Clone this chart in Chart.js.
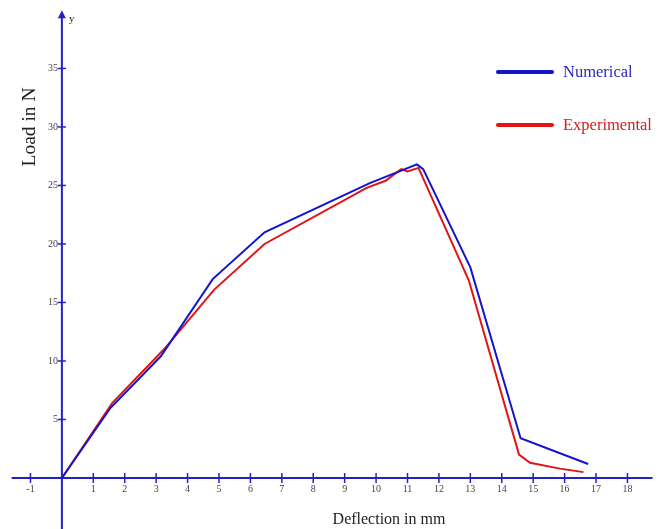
<!DOCTYPE html>
<html>
<head>
<meta charset="utf-8">
<script src="https://cdn.jsdelivr.net/npm/chart.js@4/dist/chart.umd.min.js"></script>
<style>
  body { margin: 0; background: #fff; }
  #wrap { width: 662px; height: 529px; position: relative; }
</style>
</head>
<body>
<div id="wrap"><canvas id="loadChart"></canvas></div>
<script>
// Data
const numX = [0, 1.55, 3.15, 4.8, 6.45, 9.8, 11.3, 11.5, 13.0, 14.6, 16.75];
const numY = [0, 6.0, 10.4, 17.0, 21.0, 25.2, 26.8, 26.4, 18.0, 3.4, 1.2];
const expX = [0, 1.6, 3.25, 4.85, 6.45, 9.7, 10.3, 10.8, 11.0, 11.35, 12.95, 14.55, 14.9, 15.85, 16.6];
const expY = [0, 6.4, 11.0, 16.1, 20.0, 24.8, 25.4, 26.4, 26.2, 26.5, 16.9, 2.0, 1.3, 0.8, 0.5];
const xTicks = [-1, 1, 2, 3, 4, 5, 6, 7, 8, 9, 10, 11, 12, 13, 14, 15, 16, 17, 18];
const yTicks = [5, 10, 15, 20, 25, 30, 35];

const AXIS = '#2222c8';
const BLUE = '#1414cc';
const RED = '#e01414';
const SERIF = '"Liberation Serif", "DejaVu Serif", serif';

const toPoints = (xs, ys) => xs.map((x, i) => ({ x: x, y: ys[i] }));

const decor = {
    id: 'decor',
    beforeDatasetsDraw(chart) {
        const { ctx, scales: { x, y } } = chart;
        const x0 = x.getPixelForValue(0);
        const y0 = y.getPixelForValue(0);
        ctx.save();
        ctx.strokeStyle = AXIS;
        ctx.fillStyle = AXIS;
        ctx.lineWidth = 2;
        // x axis
        ctx.beginPath();
        ctx.moveTo(x.getPixelForValue(-1.6), y0);
        ctx.lineTo(x.getPixelForValue(18.8), y0);
        ctx.stroke();
        // y axis with arrow
        const yTop = y.getPixelForValue(39.8);
        ctx.beginPath();
        ctx.moveTo(x0, 529);
        ctx.lineTo(x0, yTop + 4);
        ctx.stroke();
        ctx.beginPath();
        ctx.moveTo(x0, yTop - 2);
        ctx.lineTo(x0 - 4, yTop + 6);
        ctx.lineTo(x0 + 4, yTop + 6);
        ctx.closePath();
        ctx.fill();
        // tick marks crossing the axes
        ctx.lineWidth = 1.5;
        xTicks.forEach(v => {
            const px = x.getPixelForValue(v);
            ctx.beginPath();
            ctx.moveTo(px, y0 - 5);
            ctx.lineTo(px, y0 + 5);
            ctx.stroke();
        });
        yTicks.forEach(v => {
            const py = y.getPixelForValue(v);
            ctx.beginPath();
            ctx.moveTo(x0 - 4, py);
            ctx.lineTo(x0 + 4, py);
            ctx.stroke();
        });
        // y tick labels, left of the axis
        ctx.fillStyle = '#444';
        ctx.font = '10px ' + SERIF;
        ctx.textAlign = 'right';
        ctx.textBaseline = 'middle';
        yTicks.forEach(v => {
            ctx.fillText(String(v), x0 - 4, y.getPixelForValue(v));
        });
        ctx.restore();
    },
    afterDraw(chart) {
        const { ctx, scales: { x } } = chart;
        ctx.save();
        // axis titles
        ctx.fillStyle = '#222';
        ctx.font = '16px ' + SERIF;
        ctx.textAlign = 'center';
        ctx.textBaseline = 'alphabetic';
        ctx.fillText('Deflection in mm', 389, 524);
        ctx.font = '19.5px ' + SERIF;
        ctx.textBaseline = 'middle';
        ctx.translate(30, 127);
        ctx.rotate(-Math.PI / 2);
        ctx.fillText('Load in N', 0, 0);
        ctx.restore();
        ctx.save();
        ctx.fillStyle = '#222';
        ctx.font = '11px ' + SERIF;
        ctx.textBaseline = 'middle';
        ctx.fillText('y', x.getPixelForValue(0) + 7, 19);
        // legend
        chart.data.datasets.forEach((ds, i) => {
            const ly = 72 + i * 53;
            ctx.strokeStyle = ds.borderColor;
            ctx.lineWidth = 4;
            ctx.lineCap = 'round';
            ctx.beginPath();
            ctx.moveTo(498, ly);
            ctx.lineTo(552, ly);
            ctx.stroke();
            ctx.fillStyle = ds.borderColor === BLUE ? '#2a2ac0' : '#d42020';
            ctx.font = '16.5px ' + SERIF;
            ctx.textAlign = 'left';
            ctx.fillText(ds.label, 563, ly + 1);
        });
        ctx.restore();
    }
};

new Chart(document.getElementById('loadChart').getContext('2d'), {
    type: 'line',
    data: {
        datasets: [
            {
                label: 'Numerical',
                data: toPoints(numX, numY),
                borderColor: BLUE,
                borderWidth: 2,
                pointRadius: 0,
                tension: 0,
                fill: false
            },
            {
                label: 'Experimental',
                data: toPoints(expX, expY),
                borderColor: RED,
                borderWidth: 2,
                pointRadius: 0,
                tension: 0,
                fill: false
            }
        ]
    },
    options: {
        responsive: true,
        maintainAspectRatio: false,
        animation: false,
        layout: { padding: 0 },
        plugins: {
            legend: { display: false },
            tooltip: { enabled: false }
        },
        scales: {
            x: {
                type: 'linear',
                position: { y: 0 },
                min: -1.97,
                max: 19.1,
                afterBuildTicks: s => { s.ticks = xTicks.map(v => ({ value: v })); },
                grid: { display: false, drawTicks: false },
                border: { display: false },
                ticks: {
                    padding: 5,
                    color: '#444',
                    font: { family: SERIF, size: 10 }
                }
            },
            y: {
                type: 'linear',
                position: { x: 0 },
                min: -4.36,
                max: 40.85,
                afterBuildTicks: s => { s.ticks = yTicks.map(v => ({ value: v })); },
                grid: { display: false, drawTicks: false },
                border: { display: false },
                ticks: { display: false }
            }
        }
    },
    plugins: [decor]
});
</script>
</body>
</html>
